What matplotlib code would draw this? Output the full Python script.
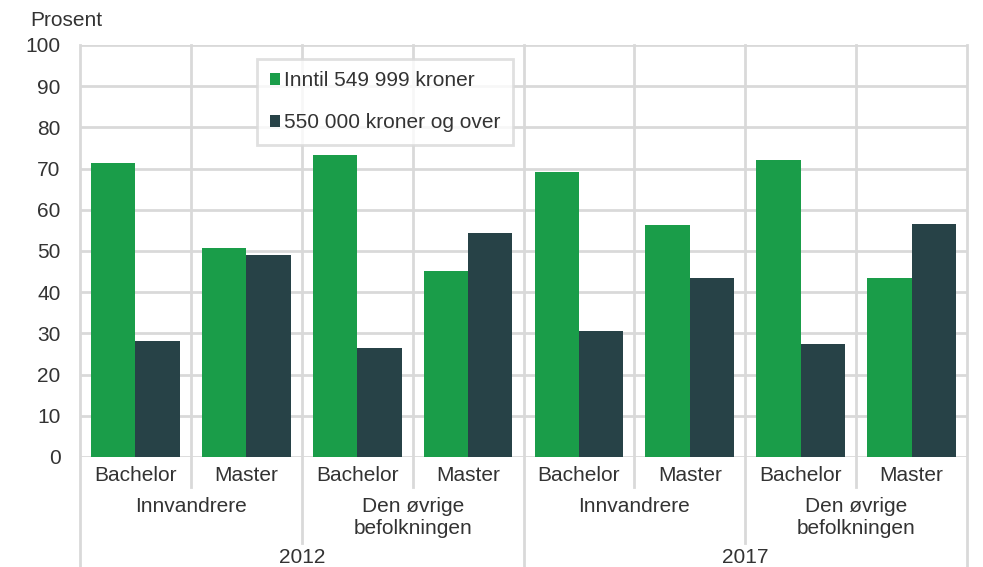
import numpy as np
import matplotlib.pyplot as plt
from matplotlib.transforms import blended_transform_factory

plt.rcParams['font.family'] = ['Liberation Sans', 'DejaVu Sans']

# data
years = ['2012', '2017']
groups = ['Innvandrere', 'Den øvrige\nbefolkningen']
levels = ['Bachelor', 'Master']
low_income = [71.4, 50.7, 73.3, 45.1, 69.2, 56.3, 72.1, 43.4]
high_income = [28.2, 49.0, 26.5, 54.4, 30.6, 43.4, 27.4, 56.6]
series_names = ['Inntil 549 999 kroner', '550 000 kroner og over']

GREEN = '#1a9d49'
DARK = '#274247'
GRID = '#d9d9d9'
TXT = '#333333'
FS = 15

fig = plt.figure(figsize=(9.83, 5.67), dpi=100)
ax = fig.add_axes([80 / 983, 1 - 457 / 567, 887 / 983, 412 / 567])

n = len(low_income)
x = np.arange(n)
w = 0.4
ax.bar(x - w / 2, low_income, w, color=GREEN, zorder=3, label=series_names[0])
ax.bar(x + w / 2, high_income, w, color=DARK, zorder=3, label=series_names[1])

ax.set_xlim(-0.5, n - 0.5)
ax.set_ylim(0, 100)
ax.set_yticks(np.arange(0, 101, 10))
ax.set_xticks([])
for s in ax.spines.values():
    s.set_visible(False)
ax.tick_params(axis='y', length=0, labelsize=FS, labelcolor=TXT, pad=14)

for yv in np.arange(0, 101, 10):
    ax.axhline(yv, color=GRID, lw=2, zorder=1)

trans = blended_transform_factory(ax.transData, ax.transAxes)
for i in range(n + 1):
    xb = i - 0.5
    if i % 4 == 0:
        ylow = -0.27
    elif i % 2 == 0:
        ylow = -0.209
    else:
        ylow = -0.073
    ax.plot([xb, xb], [ylow, 1], color=GRID, lw=2, transform=trans,
            clip_on=False, zorder=1)

# category labels
for i in range(n):
    ax.text(i, -0.044, levels[i % 2], transform=trans, ha='center', va='center',
            fontsize=FS, color=TXT)
for j in range(n // 2):
    ax.text(2 * j + 0.5, -0.098, groups[j % 2], transform=trans, ha='center',
            va='top', fontsize=FS, color=TXT, linespacing=1.2)
for k, yr in enumerate(years):
    ax.text(4 * k + 1.5, -0.243, yr, transform=trans, ha='center', va='center',
            fontsize=FS, color=TXT)

fig.text(30 / 983, 1 - 20 / 567, 'Prosent', ha='left', va='center',
         fontsize=FS, color=TXT)

leg = ax.legend(loc='upper left', bbox_to_anchor=((257 - 80) / 887, (457 - 59) / 412),
                frameon=True, fancybox=False, fontsize=FS, handlelength=0.5,
                handleheight=0.5, handletextpad=0.2, labelspacing=1.1,
                borderpad=0.6, borderaxespad=0)
leg.get_frame().set_edgecolor(GRID)
leg.get_frame().set_linewidth(2)
for t in leg.get_texts():
    t.set_color(TXT)
leg.set_zorder(5)

fig.savefig('out.png', dpi=100)
